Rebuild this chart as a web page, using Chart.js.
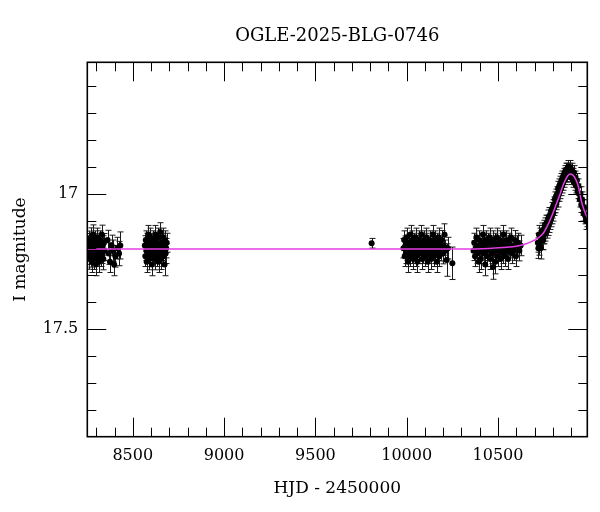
<!DOCTYPE html>
<html><head><meta charset="utf-8">
<script src="https://cdn.jsdelivr.net/npm/chart.js@4"></script>
<style>html,body{margin:0;padding:0;background:#fff}</style>
</head><body>
<canvas id="c" width="600" height="512"></canvas>
<script>
const chartTitle = 'OGLE-2025-BLG-0746';
const xLabel = 'HJD - 2450000';
const yLabel = 'I magnitude';
const xTickLabels = [8500, 9000, 9500, 10000, 10500];
const yTickLabels = [17, 17.5];

// [HJD-2450000, I mag, error]
const season1 = [[8256,17.19,0.035],[8259,17.22,0.04],[8261,17.17,0.033],[8263,17.24,0.038],[8265,17.20,0.036],[8267,17.18,0.034],[8270,17.23,0.04],[8272,17.16,0.035],[8274,17.21,0.037],[8276,17.25,0.04],[8279,17.19,0.034],[8281,17.15,0.036],[8283,17.22,0.038],[8286,17.20,0.035],[8288,17.24,0.039],[8290,17.18,0.033],[8293,17.21,0.036],[8295,17.17,0.034],[8298,17.26,0.042],[8300,17.20,0.035],[8303,17.23,0.037],[8305,17.16,0.034],[8308,17.19,0.036],[8310,17.22,0.038],[8313,17.25,0.04],[8316,17.18,0.035],[8318,17.21,0.036],[8321,17.17,0.034],[8324,17.23,0.038],[8327,17.20,0.036],[8330,17.15,0.035],[8333,17.22,0.037],[8336,17.19,0.036],[8339,17.24,0.04],[8342,17.18,0.034],[8345,17.21,0.036],[8362,17.17,0.036],[8368,17.22,0.04],[8375,17.25,0.04],[8384,17.19,0.038],[8392,17.21,0.04],[8398,17.26,0.042],[8405,17.23,0.04],[8415,17.20,0.04],[8425,17.22,0.045],[8432,17.19,0.05]];
const season2 = [[8566,17.19,0.036],[8569,17.23,0.038],[8571,17.17,0.034],[8574,17.21,0.036],[8576,17.25,0.04],[8579,17.18,0.035],[8581,17.22,0.037],[8584,17.15,0.034],[8586,17.20,0.036],[8589,17.24,0.04],[8591,17.19,0.035],[8594,17.16,0.034],[8597,17.23,0.038],[8600,17.21,0.036],[8602,17.18,0.035],[8605,17.26,0.042],[8608,17.20,0.036],[8611,17.17,0.034],[8614,17.22,0.037],[8617,17.19,0.035],[8620,17.24,0.04],[8623,17.15,0.034],[8626,17.21,0.036],[8629,17.18,0.035],[8632,17.23,0.038],[8635,17.20,0.036],[8638,17.16,0.034],[8641,17.25,0.04],[8644,17.19,0.035],[8647,17.22,0.037],[8650,17.14,0.034],[8653,17.20,0.036],[8656,17.24,0.039],[8659,17.18,0.035],[8662,17.21,0.036],[8665,17.16,0.034],[8668,17.23,0.038],[8671,17.19,0.035],[8674,17.26,0.042],[8677,17.17,0.034],[8680,17.22,0.037],[8683,17.20,0.036],[8686,17.18,0.035]];
const season3 = [[9808,17.182,0.018]];
const season4 = [[9982,17.20,0.036],[9986,17.17,0.034],[9989,17.23,0.038],[9993,17.19,0.035],[9996,17.22,0.037],[10000,17.16,0.034],[10003,17.21,0.036],[10007,17.25,0.04],[10010,17.18,0.035],[10014,17.20,0.036],[10017,17.23,0.038],[10021,17.15,0.034],[10024,17.19,0.035],[10028,17.22,0.037],[10031,17.17,0.034],[10035,17.24,0.039],[10038,17.20,0.036],[10042,17.18,0.035],[10045,17.21,0.036],[10049,17.16,0.034],[10052,17.23,0.038],[10056,17.19,0.035],[10059,17.25,0.04],[10063,17.20,0.036],[10066,17.17,0.034],[10070,17.22,0.037],[10073,17.18,0.035],[10077,17.21,0.036],[10080,17.15,0.034],[10084,17.24,0.039],[10087,17.19,0.035],[10091,17.22,0.037],[10094,17.17,0.034],[10098,17.20,0.036],[10101,17.23,0.038],[10105,17.18,0.035],[10108,17.16,0.034],[10112,17.21,0.036],[10115,17.25,0.04],[10119,17.19,0.035],[10122,17.22,0.037],[10126,17.17,0.034],[10129,17.20,0.036],[10133,17.24,0.039],[10136,17.18,0.035],[10140,17.21,0.036],[10143,17.15,0.034],[10147,17.23,0.038],[10150,17.19,0.035],[10154,17.22,0.037],[10157,17.17,0.034],[10161,17.20,0.036],[10164,17.25,0.04],[10168,17.18,0.035],[10171,17.21,0.036],[10175,17.16,0.034],[10179,17.23,0.038],[10183,17.19,0.035],[10187,17.21,0.037],[10192,17.17,0.035],[10197,17.22,0.038],[10202,17.19,0.036],[10207,17.15,0.04],[10212,17.21,0.04],[10219,17.244,0.06],[10226,17.20,0.04],[10250,17.256,0.06]];
const season5 = [[10366,17.21,0.036],[10370,17.18,0.035],[10374,17.23,0.038],[10378,17.20,0.036],[10382,17.16,0.034],[10386,17.22,0.037],[10390,17.19,0.035],[10394,17.25,0.04],[10398,17.17,0.034],[10402,17.21,0.036],[10406,17.24,0.039],[10410,17.18,0.035],[10414,17.20,0.036],[10418,17.15,0.034],[10422,17.22,0.037],[10426,17.19,0.035],[10430,17.26,0.042],[10434,17.17,0.034],[10438,17.21,0.036],[10442,17.23,0.038],[10446,17.18,0.035],[10450,17.20,0.036],[10454,17.16,0.034],[10458,17.24,0.039],[10462,17.19,0.035],[10466,17.22,0.037],[10470,17.17,0.034],[10474,17.27,0.045],[10478,17.20,0.036],[10482,17.18,0.035],[10486,17.25,0.045],[10490,17.21,0.036],[10494,17.16,0.034],[10498,17.23,0.038],[10502,17.19,0.035],[10506,17.21,0.036],[10510,17.17,0.034],[10514,17.24,0.039],[10518,17.20,0.036],[10522,17.18,0.035],[10526,17.22,0.037],[10530,17.15,0.034],[10534,17.20,0.036],[10538,17.23,0.038],[10542,17.19,0.035],[10546,17.17,0.034],[10550,17.21,0.036],[10555,17.24,0.039],[10560,17.18,0.035],[10565,17.20,0.036],[10570,17.16,0.034],[10575,17.22,0.037],[10580,17.19,0.035],[10586,17.21,0.036],[10592,17.17,0.035],[10598,17.23,0.038],[10604,17.19,0.036],[10610,17.18,0.035],[10617,17.21,0.037],[10624,17.19,0.038]];
const season6 = [[10718,17.18,0.035],[10721,17.20,0.038],[10724,17.15,0.034],[10727,17.19,0.036],[10730,17.16,0.034],[10733,17.20,0.04],[10736,17.17,0.035],[10739,17.14,0.033],[10742,17.17,0.035],[10745,17.15,0.034],[10748,17.17,0.036],[10751,17.13,0.033],[10754,17.15,0.034],[10757,17.12,0.032],[10760,17.14,0.034],[10763,17.11,0.032],[10766,17.13,0.033],[10769,17.11,0.031],[10772,17.12,0.033],[10775,17.09,0.031],[10778,17.11,0.032],[10781,17.08,0.03],[10784,17.10,0.031],[10787,17.08,0.03],[10790,17.09,0.031],[10793,17.06,0.029],[10796,17.08,0.03],[10799,17.05,0.029],[10802,17.07,0.03],[10805,17.04,0.029],[10808,17.05,0.029],[10811,17.02,0.028],[10814,17.04,0.029],[10817,17.01,0.028],[10820,17.03,0.028],[10823,17.00,0.027],[10826,17.02,0.028],[10829,16.98,0.027],[10832,17.00,0.027],[10835,16.97,0.026],[10838,16.99,0.027],[10841,16.96,0.026],[10844,16.98,0.026],[10847,16.95,0.026],[10850,16.97,0.026],[10853,16.94,0.025],[10856,16.96,0.026],[10859,16.93,0.025],[10862,16.95,0.025],[10865,16.92,0.025],[10868,16.94,0.025],[10871,16.91,0.024],[10874,16.93,0.025],[10877,16.91,0.024],[10880,16.93,0.025],[10883,16.90,0.024],[10886,16.92,0.025],[10889,16.91,0.024],[10892,16.93,0.025],[10895,16.90,0.024],[10898,16.92,0.025],[10901,16.94,0.025],[10904,16.91,0.024],[10908,16.93,0.025],[10912,16.95,0.025],[10916,16.92,0.025],[10920,16.96,0.026],[10924,16.94,0.025],[10928,16.97,0.026],[10932,16.95,0.026],[10936,16.99,0.027],[10940,16.97,0.026],[10944,17.00,0.027],[10948,17.02,0.028],[10952,17.00,0.027],[10956,17.04,0.028],[10960,17.02,0.028],[10964,17.05,0.029],[10968,17.07,0.03],[10972,17.05,0.029],[10977,17.08,0.03],[10982,17.10,0.031],[10987,17.09,0.031]];

// model light curve
const modelT   = [8251, 10300, 10450, 10550, 10600, 10650, 10680, 10710, 10730, 10750, 10770, 10785, 10800, 10820, 10840, 10858, 10875, 10894, 10910, 10925, 10940, 10958, 10972, 10989];
const modelMag = [17.203, 17.203, 17.201, 17.197, 17.193, 17.185, 17.177, 17.167, 17.157, 17.143, 17.118, 17.096, 17.072, 17.036, 17.000, 16.965, 16.940, 16.926, 16.930, 16.945, 16.972, 17.030, 17.060, 17.088];

const FONT = 'DejaVu Serif';
const allObs = [].concat(season1, season2, season3, season4, season5, season6);

const errorBars = {
  id: 'errorBars',
  beforeDatasetsDraw(chart) {
    const ds = chart.data.datasets[1];
    const xs = chart.scales.x, ys = chart.scales.y, ca = chart.chartArea;
    const ctx = chart.ctx;
    ctx.save();
    ctx.beginPath(); ctx.rect(ca.left, ca.top, ca.right - ca.left, ca.bottom - ca.top); ctx.clip();
    ctx.beginPath();
    ctx.strokeStyle = '#1a1a1a'; ctx.lineWidth = 1;
    ds.data.forEach(p => {
      const px = Math.round(xs.getPixelForValue(p.x)) + 0.5;
      const y1 = ys.getPixelForValue(p.y - p.e), y2 = ys.getPixelForValue(p.y + p.e);
      ctx.moveTo(px, y1); ctx.lineTo(px, y2);
      ctx.moveTo(px - 3, y1); ctx.lineTo(px + 3, y1);
      ctx.moveTo(px - 3, y2); ctx.lineTo(px + 3, y2);
    });
    ctx.stroke();
    ctx.restore();
  }
};

const frame = {
  id: 'frame',
  afterDraw(chart) {
    const xs = chart.scales.x, ys = chart.scales.y, ca = chart.chartArea;
    const ctx = chart.ctx;
    ctx.save();
    ctx.strokeStyle = '#000';
    ctx.lineWidth = 1;
    ctx.beginPath();
    for (let v = 8300; v <= 10900; v += 100) {
      const px = Math.round(xs.getPixelForValue(v)) + 0.5;
      const len = (v % 500 === 0) ? 19 : 9;
      ctx.moveTo(px, ca.bottom); ctx.lineTo(px, ca.bottom - len);
      ctx.moveTo(px, ca.top); ctx.lineTo(px, ca.top + len);
    }
    for (let k = 166; k <= 178; k++) {
      const v = k / 10;
      const py = Math.round(ys.getPixelForValue(v)) + 0.5;
      const len = (k % 5 === 0) ? 19 : 9;
      ctx.moveTo(ca.left, py); ctx.lineTo(ca.left + len, py);
      ctx.moveTo(ca.right, py); ctx.lineTo(ca.right - len, py);
    }
    ctx.stroke();
    ctx.lineWidth = 1.6;
    ctx.strokeRect(ca.left, ca.top, ca.right - ca.left, ca.bottom - ca.top);
    ctx.restore();
  }
};

new Chart(document.getElementById('c'), {
  type: 'scatter',
  data: {
    datasets: [
      {
        label: 'model',
        data: modelT.map((t, i) => ({x: t, y: modelMag[i]})),
        showLine: true,
        borderColor: '#e63ce6',
        borderWidth: 1.5,
        pointRadius: 0,
        cubicInterpolationMode: 'monotone',
        fill: false
      },
      {
        label: 'OGLE',
        data: allObs.map(o => ({x: o[0], y: o[1], e: o[2]})),
        backgroundColor: '#000',
        borderColor: '#000',
        pointRadius: 3,
        borderWidth: 0
      }
    ]
  },
  options: {
    responsive: false,
    animation: false,
    devicePixelRatio: 1,
    layout: {padding: {left: 0, right: 12.7, top: 0, bottom: 0}},
    plugins: {
      legend: {display: false},
      tooltip: {enabled: false},
      title: {
        display: true, text: chartTitle, color: '#000', fullSize: false,
        font: {family: FONT, size: 18, weight: 'normal'},
        padding: {top: 26, bottom: 14.7}
      }
    },
    scales: {
      x: {
        type: 'linear', min: 8251, max: 10989,
        afterBuildTicks: s => { s.ticks = xTickLabels.map(v => ({value: v})); },
        afterFit: s => { s.height = 75.3; },
        grid: {display: false, drawTicks: false},
        border: {display: false},
        ticks: {color: '#000', font: {family: FONT, size: 16}, padding: 10, maxRotation: 0, autoSkip: false, callback: v => String(v)},
        title: {display: true, text: xLabel, color: '#000', font: {family: FONT, size: 17}, padding: {top: 0, bottom: 13}}
      },
      y: {
        type: 'linear', reverse: true, min: 16.513, max: 17.897,
        afterBuildTicks: s => { s.ticks = yTickLabels.map(v => ({value: v})); },
        afterFit: s => { s.width = 87.3; },
        grid: {display: false, drawTicks: false},
        border: {display: false},
        ticks: {color: '#000', font: {family: FONT, size: 16}, padding: 9, autoSkip: false, callback: v => String(v)},
        title: {display: true, text: yLabel, color: '#000', font: {family: FONT, size: 17}, padding: {top: 10, bottom: 0}}
      }
    }
  },
  plugins: [errorBars, frame]
});
</script>
</body></html>
